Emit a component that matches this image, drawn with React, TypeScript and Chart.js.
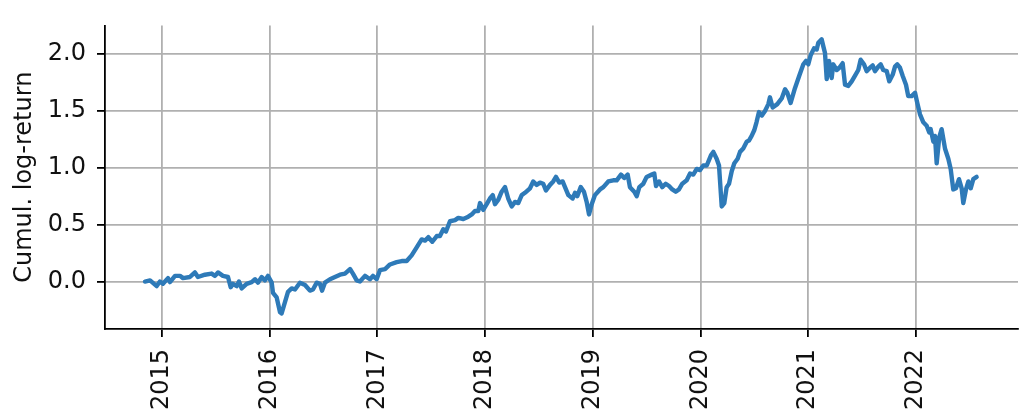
import React, { useEffect, useRef } from "react";
import { Chart, registerables } from "chart.js";

Chart.register(...registerables);

// Dates as decimal years
const years: number[] = [
  2014.842, 2014.889, 2014.951, 2014.981, 2015.009, 2015.056, 2015.074, 2015.121, 2015.167, 2015.195,
  2015.26, 2015.306, 2015.334, 2015.399, 2015.461, 2015.492, 2015.52, 2015.566, 2015.613, 2015.638,
  2015.659, 2015.694, 2015.715, 2015.74, 2015.786, 2015.833, 2015.864, 2015.891, 2015.926, 2015.956,
  2015.984, 2016.019, 2016.031, 2016.065, 2016.096, 2016.111, 2016.133, 2016.17, 2016.204, 2016.235,
  2016.281, 2016.328, 2016.374, 2016.402, 2016.436, 2016.467, 2016.486, 2016.513, 2016.56, 2016.606,
  2016.653, 2016.699, 2016.746, 2016.773, 2016.808, 2016.838, 2016.885, 2016.931, 2016.959, 2016.993,
  2017.024, 2017.071, 2017.117, 2017.179, 2017.226, 2017.272, 2017.318, 2017.365, 2017.411, 2017.442,
  2017.473, 2017.51, 2017.551, 2017.581, 2017.612, 2017.637, 2017.674, 2017.721, 2017.751, 2017.798,
  2017.844, 2017.876, 2017.906, 2017.937, 2017.953, 2017.983, 2018.015, 2018.045, 2018.071, 2018.092,
  2018.123, 2018.154, 2018.185, 2018.215, 2018.247, 2018.278, 2018.308, 2018.34, 2018.37, 2018.417,
  2018.447, 2018.479, 2018.51, 2018.54, 2018.565, 2018.603, 2018.633, 2018.658, 2018.689, 2018.72,
  2018.742, 2018.773, 2018.813, 2018.835, 2018.856, 2018.888, 2018.918, 2018.943, 2018.965, 2018.99,
  2019.02, 2019.067, 2019.098, 2019.144, 2019.19, 2019.222, 2019.262, 2019.292, 2019.324, 2019.345,
  2019.385, 2019.408, 2019.432, 2019.469, 2019.5, 2019.547, 2019.571, 2019.587, 2019.615, 2019.645,
  2019.677, 2019.708, 2019.738, 2019.77, 2019.8, 2019.831, 2019.872, 2019.903, 2019.933, 2019.965,
  2019.995, 2020.026, 2020.058, 2020.097, 2020.119, 2020.15, 2020.172, 2020.197, 2020.221, 2020.243,
  2020.265, 2020.29, 2020.314, 2020.345, 2020.367, 2020.397, 2020.429, 2020.45, 2020.475, 2020.499,
  2020.52, 2020.543, 2020.57, 2020.599, 2020.63, 2020.645, 2020.67, 2020.713, 2020.754, 2020.785,
  2020.806, 2020.837, 2020.877, 2020.917, 2020.955, 2020.98, 2021.001, 2021.023, 2021.054, 2021.079,
  2021.094, 2021.125, 2021.14, 2021.156, 2021.172, 2021.193, 2021.218, 2021.233, 2021.265, 2021.289,
  2021.32, 2021.342, 2021.372, 2021.404, 2021.435, 2021.465, 2021.487, 2021.518, 2021.543, 2021.574,
  2021.599, 2021.62, 2021.651, 2021.673, 2021.697, 2021.729, 2021.753, 2021.785, 2021.806, 2021.827,
  2021.852, 2021.877, 2021.908, 2021.929, 2021.961, 2021.992, 2022.013, 2022.038, 2022.069, 2022.1,
  2022.124, 2022.137, 2022.162, 2022.177, 2022.193, 2022.217, 2022.239, 2022.27, 2022.301, 2022.323,
  2022.347, 2022.372, 2022.4, 2022.425, 2022.44, 2022.465, 2022.487, 2022.509, 2022.533, 2022.564,
];

const cumulLogReturn: number[] = [
  0.0, 0.01, -0.04, 0.0, -0.02, 0.03, -0.005, 0.05, 0.05, 0.03,
  0.04, 0.08, 0.04, 0.06, 0.07, 0.05, 0.08, 0.05, 0.04, -0.05,
  -0.02, -0.04, 0.0, -0.06, -0.02, -0.005, 0.02, -0.01, 0.04, 0.01,
  0.05, -0.01, -0.1, -0.14, -0.27, -0.28, -0.21, -0.09, -0.06, -0.07,
  -0.01, -0.03, -0.08, -0.07, -0.01, -0.02, -0.08, -0.01, 0.02, 0.04,
  0.06, 0.07, 0.11, 0.07, 0.01, 0.0, 0.05, 0.02, 0.05, 0.02,
  0.1, 0.11, 0.15, 0.17, 0.18, 0.18, 0.23, 0.3, 0.37, 0.36,
  0.39, 0.35, 0.4, 0.4, 0.46, 0.44, 0.53, 0.54, 0.56, 0.55,
  0.57, 0.59, 0.62, 0.62, 0.69, 0.63, 0.68, 0.73, 0.76, 0.68,
  0.72, 0.79, 0.83, 0.73, 0.66, 0.7, 0.69, 0.76, 0.78, 0.82,
  0.88, 0.85, 0.87, 0.86, 0.8, 0.85, 0.88, 0.92, 0.87, 0.88,
  0.83, 0.76, 0.73, 0.78, 0.75, 0.83, 0.79, 0.7, 0.59, 0.68,
  0.76, 0.81, 0.83, 0.88, 0.89, 0.89, 0.94, 0.91, 0.94, 0.83,
  0.79, 0.75, 0.83, 0.86, 0.92, 0.94, 0.95, 0.84, 0.88, 0.83,
  0.86, 0.84, 0.81, 0.79, 0.81, 0.86, 0.89, 0.95, 0.94, 0.99,
  0.98, 1.02, 1.02, 1.11, 1.14, 1.08, 1.02, 0.66, 0.69, 0.83,
  0.86, 0.97, 1.04, 1.08, 1.14, 1.17, 1.23, 1.24, 1.28, 1.33,
  1.4, 1.49, 1.46, 1.5, 1.56, 1.62, 1.53, 1.56, 1.61, 1.69,
  1.66, 1.57, 1.7, 1.81, 1.91, 1.94, 1.91, 1.99, 2.05, 2.04,
  2.1, 2.13, 2.07, 2.01, 1.78, 1.94, 1.79, 1.91, 1.86, 1.88,
  1.92, 1.73, 1.72, 1.76, 1.81, 1.86, 1.95, 1.91, 1.85, 1.88,
  1.9, 1.85, 1.89, 1.91, 1.86, 1.85, 1.76, 1.82, 1.89, 1.91,
  1.88, 1.81, 1.73, 1.63, 1.63, 1.66, 1.57, 1.47, 1.4, 1.37,
  1.31, 1.34, 1.23, 1.28, 1.04, 1.27, 1.34, 1.17, 1.08, 0.99,
  0.81, 0.82, 0.9, 0.82, 0.69, 0.81, 0.88, 0.82, 0.9, 0.92,
];

const xTickYears: number[] = [2015, 2016, 2017, 2018, 2019, 2020, 2021, 2022];
const yTickValues: number[] = [0.0, 0.5, 1.0, 1.5, 2.0];
const yAxisLabel = "Cumul. log-return";

export default function App() {
  const canvasRef = useRef<HTMLCanvasElement | null>(null);

  useEffect(() => {
    document.body.style.margin = "0";
    const canvas = canvasRef.current;
    if (!canvas) return;
    const font = { family: "'DejaVu Sans', sans-serif", size: 24 };
    const chart = new Chart(canvas, {
      type: "line",
      data: {
        datasets: [
          {
            data: years.map((x, i) => ({ x, y: cumulLogReturn[i] })),
            borderColor: "#2e7ab8",
            borderWidth: 4.4,
            pointRadius: 0,
            tension: 0,
            fill: false,
            borderJoinStyle: "round",
            borderCapStyle: "round",
          },
        ],
      },
      options: {
        animation: false,
        responsive: false,
        maintainAspectRatio: false,
        layout: { padding: { left: 0, top: 22, right: 6, bottom: 0 } },
        plugins: { legend: { display: false }, tooltip: { enabled: false } },
        scales: {
          x: {
            type: "linear",
            min: 2014.471,
            max: 2022.948,
            afterBuildTicks: (scale: any) => {
              scale.ticks = xTickYears.map((v) => ({ value: v }));
            },
            afterFit: (scale: any) => {
              scale.height = 87;
            },
            ticks: {
              autoSkip: false,
              minRotation: 90,
              maxRotation: 90,
              padding: 12,
              color: "#111",
              font,
              callback: (v: any) => String(v),
            },
            grid: {
              color: "#b0b0b0",
              lineWidth: 1.8,
              tickColor: "#000",
              tickLength: 8,
              tickWidth: 1.8,
              drawTicks: true,
            },
            border: { display: true, color: "#000", width: 1.8 },
          },
          y: {
            type: "linear",
            min: -0.4174,
            max: 2.2522,
            afterBuildTicks: (scale: any) => {
              scale.ticks = yTickValues.map((v) => ({ value: v }));
            },
            afterFit: (scale: any) => {
              scale.width = 105;
            },
            ticks: {
              padding: 11,
              color: "#111",
              font,
              callback: (v: any) => Number(v).toFixed(1),
            },
            grid: {
              color: "#b0b0b0",
              lineWidth: 1.8,
              tickColor: "#000",
              tickLength: 8,
              tickWidth: 1.8,
              drawTicks: true,
            },
            border: { display: true, color: "#000", width: 1.8 },
            title: {
              display: true,
              text: yAxisLabel,
              color: "#111",
              font,
              padding: { top: 10.5, bottom: 0 },
            },
          },
        },
      },
    } as any);
    return () => chart.destroy();
  }, []);

  return (
    <div style={{ position: "absolute", left: 0, top: 0, width: 1024, height: 416, background: "#fff" }}>
      <canvas ref={canvasRef} width={1024} height={416} style={{ width: 1024, height: 416, display: "block" }} />
    </div>
  );
}
